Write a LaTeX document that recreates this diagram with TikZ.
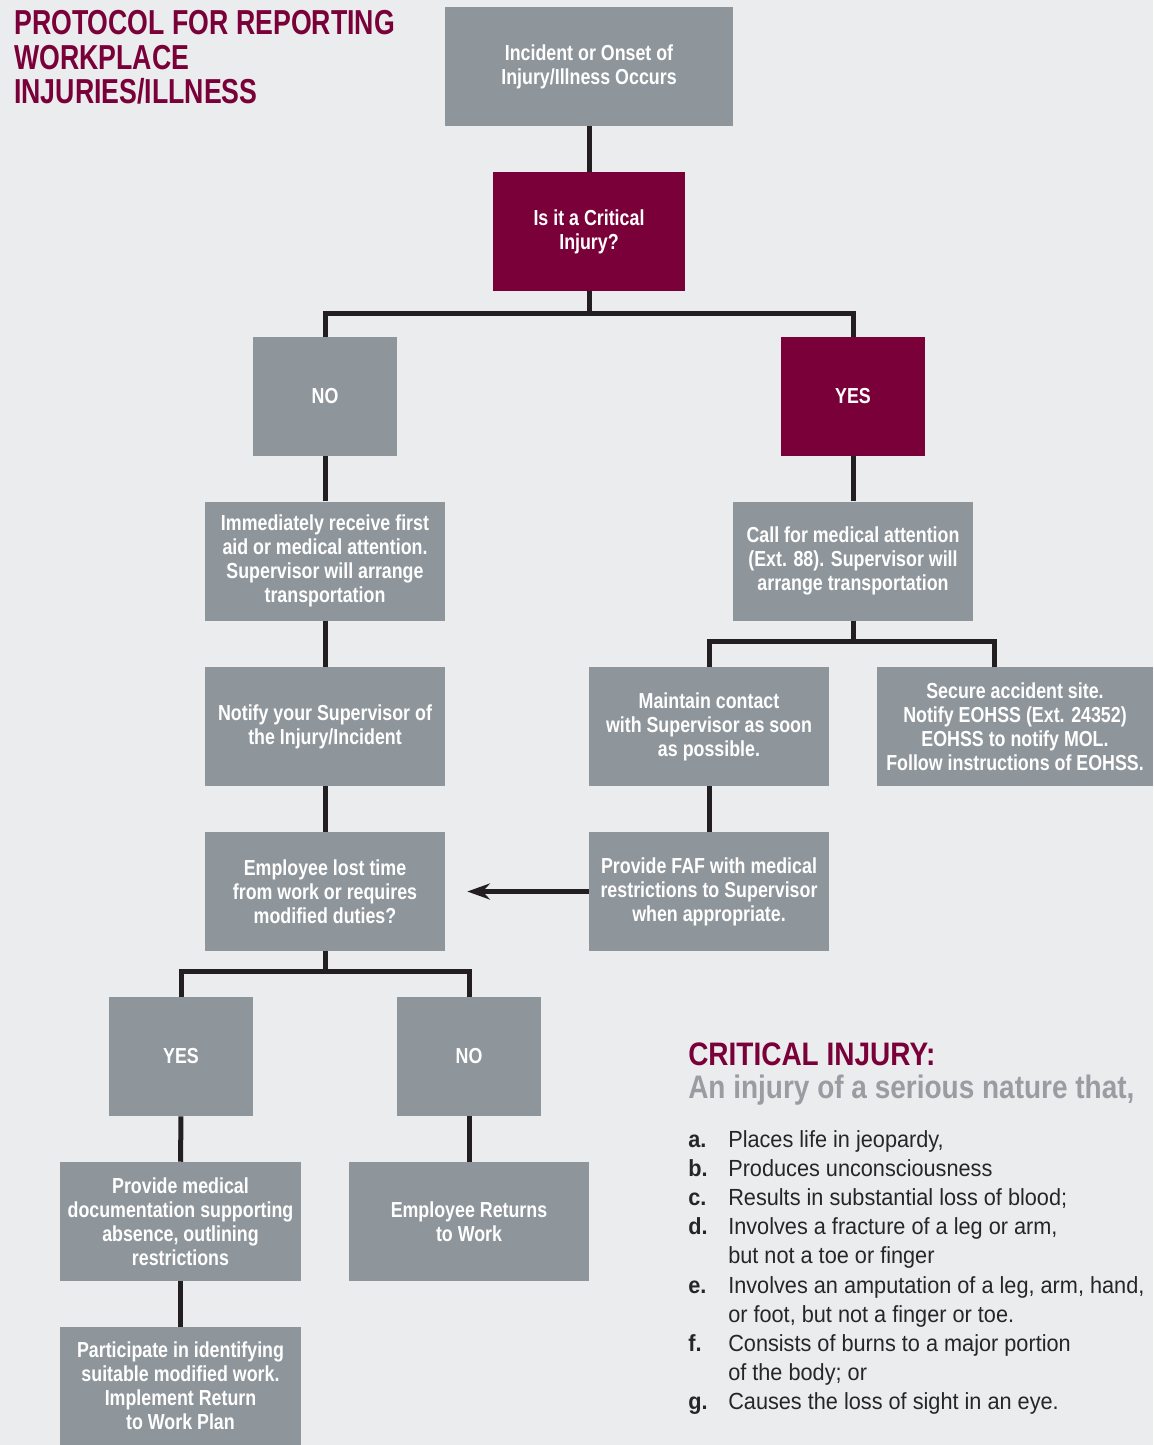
\documentclass[tikz,border=0pt]{standalone}
\usepackage{fontspec}
\setmainfont{Liberation Sans}[FakeStretch=0.82]
\newfontfamily\headfont{Liberation Sans}[FakeStretch=0.77]
\newfontfamily\notefont{Liberation Sans}[FakeStretch=0.86]
\newfontfamily\listfont{Liberation Sans}[FakeStretch=0.93]
\usetikzlibrary{arrows.meta}
\definecolor{protored}{HTML}{7A0039}
\definecolor{protogray}{HTML}{8E959B}
\definecolor{protobg}{HTML}{EBECEE}
\definecolor{protoline}{HTML}{231F20}
\definecolor{protosub}{HTML}{999DA2}
\definecolor{prototext}{HTML}{262626}

\begin{document}
\begin{tikzpicture}[
    x=0.75pt, y=-0.75pt,
    box/.style={rectangle, fill=protogray, text=white, align=center, inner sep=0pt,
        font=\bfseries\fontsize{16.3}{18}\selectfont, minimum width=180pt, minimum height=89.25pt},
    small/.style={box, minimum width=108pt},
    crit/.style={fill=protored},
    conn/.style={line width=3.75pt, protoline},
    arr/.style={conn, -{Stealth[length=17pt,width=12pt]}, shorten >=16.5pt}
]
\fill[protobg] (0,0) rectangle (1153,1445);

\node[anchor=north west, inner sep=0pt, align=left, text=protored,
    font=\headfont\bfseries\fontsize{26}{25.9}\selectfont] (title) at (14,10)
    {PROTOCOL FOR REPORTING\\WORKPLACE\\INJURIES/ILLNESS};

% main column
\node[box, minimum width=216pt] (incident) at (589,66.5) {Incident or Onset of\\Injury/Illness Occurs};
\node[box, crit, minimum width=144pt] (critq) at (589,231.5) {Is it a Critical\\Injury?};
\node[small] (no1) at (325,396.5) {NO};
\node[small, crit] (yes1) at (853,396.5) {YES};

% not critical
\node[box] (firstaid) at (325,561) {Immediately receive first\\aid or medical attention.\\Supervisor will arrange\\transportation};
\node[box] (notify) at (325,726.5) {Notify your Supervisor of\\the Injury/Incident};
\node[box] (losttime) at (325,891.5) {Employee lost time\\from work or requires\\modified duties?};
\node[small] (yes2) at (181,1056.5) {YES};
\node[small] (no2) at (469,1056.5) {NO};
\node[box, minimum width=180.75pt] (meddoc) at (180.5,1221.5) {Provide medical\\documentation supporting\\absence, outlining\\restrictions};
\node[box, minimum width=180.75pt, minimum height=88.5pt] (rtwplan) at (180.5,1386) {Participate in identifying\\suitable modified work.\\Implement Return\\to Work Plan};
\node[box] (returns) at (469,1221.5) {Employee Returns\\to Work};

% critical
\node[box] (callmed) at (853,561) {Call for medical attention\\(Ext. 88). Supervisor will\\arrange transportation};
\node[box] (contact) at (709,726.5) {Maintain contact\\with Supervisor as soon\\as possible.};
\node[box, minimum width=207pt] (secure) at (1015,726.5) {Secure accident site.\\Notify EOHSS (Ext. 24352)\\EOHSS to notify MOL.\\Follow instructions of EOHSS.};
\node[box] (faf) at (709,891.5) {Provide FAF with medical\\restrictions to Supervisor\\when appropriate.};

\coordinate (split1) at (589,313);
\coordinate (split2) at (325,971);
\coordinate (split3) at (853,641);
\coordinate (split3r) at (994,641);

\draw[conn] (incident) -- (critq);
\draw[conn] (critq) -- (split1);
\draw[conn] (no1.north) |- (split1) -| (yes1.north);
\draw[conn] (no1) -- (firstaid);
\draw[conn] (firstaid) -- (notify);
\draw[conn] (notify) -- (losttime);
\draw[conn] (losttime) -- (split2);
\draw[conn] (yes2.north) |- (split2) -| (no2.north);
\draw[conn] (yes2) -- (meddoc);
\draw[conn] (meddoc) -- (rtwplan);
\draw[conn] (no2) -- (returns);
\draw[conn] (yes1) -- (callmed);
\draw[conn] (callmed) -- (split3);
\draw[conn] (contact.north) |- (split3r) -- (split3r |- secure.north);
\draw[conn] (contact) -- (faf);
\draw[arr] (faf) -- (losttime);

% definition
\node[anchor=north west, inner sep=0pt, align=left,
    font=\notefont\bfseries\fontsize{24.4}{24.75}\selectfont] (crithead) at (688,1043)
    {\textcolor{protored}{CRITICAL INJURY:}\\\textcolor{protosub}{An injury of a serious nature that,}};
\node[anchor=base west, inner sep=0pt, text=prototext,
    font=\listfont\fontsize{17.5}{21.9}\selectfont] (critlist) at (688,1147)
    {\begin{tabular}[t]{@{}p{30pt}@{}l@{}}
    \textbf{a.} & Places life in jeopardy,\\
    \textbf{b.} & Produces unconsciousness\\
    \textbf{c.} & Results in substantial loss of blood;\\
    \textbf{d.} & Involves a fracture of a leg or arm,\\
                & but not a toe or finger\\
    \textbf{e.} & Involves an amputation of a leg, arm, hand,\\
                & or foot, but not a finger or toe.\\
    \textbf{f.} & Consists of burns to a major portion\\
                & of the body; or\\
    \textbf{g.} & Causes the loss of sight in an eye.
    \end{tabular}};
\end{tikzpicture}
\end{document}
